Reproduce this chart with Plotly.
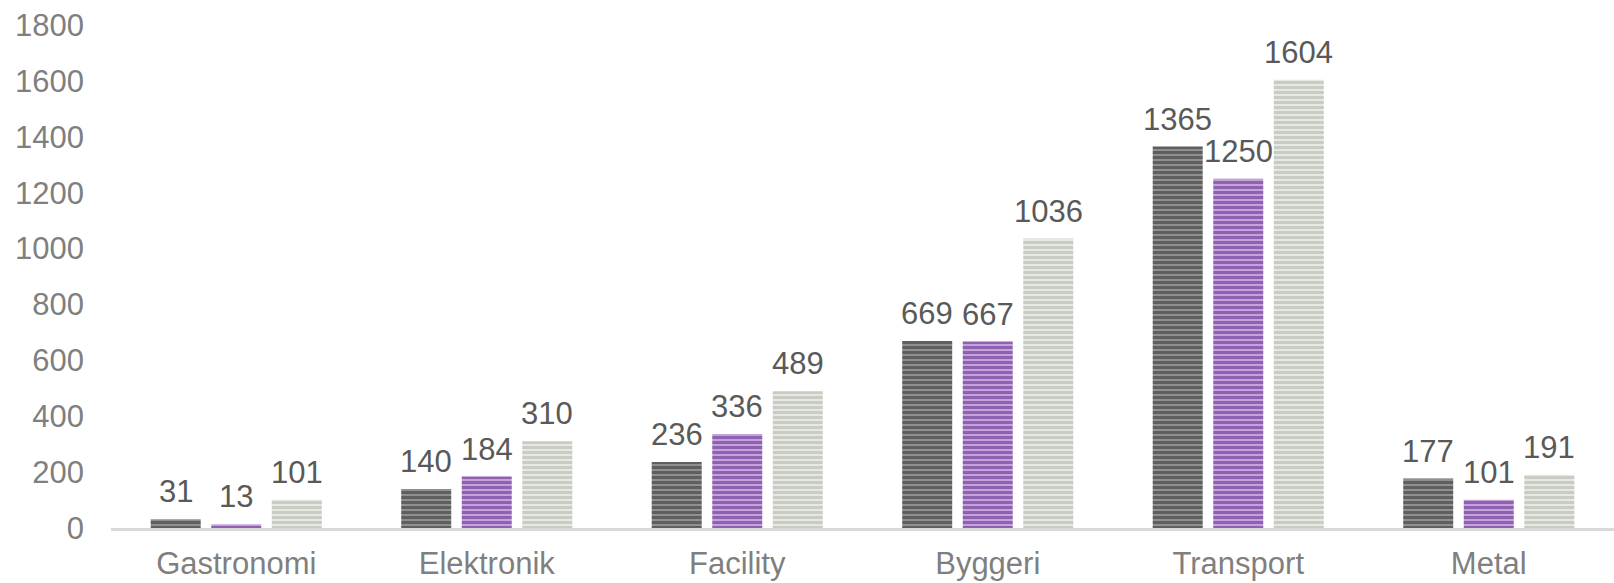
import plotly.graph_objects as go

categories = ["Gastronomi", "Elektronik", "Facility", "Byggeri", "Transport", "Metal"]
series_names = ["Serie 1", "Serie 2", "Serie 3"]
series1 = [31, 140, 236, 669, 1365, 177]
series2 = [13, 184, 336, 667, 1250, 101]
series3 = [101, 310, 489, 1036, 1604, 191]

styles = [
    dict(fg="#2e2e2e", bg="#909090"),
    dict(fg="#5a2187", bg="#c3a3da"),
    dict(fg="#a9afa3", bg="#e6e8e3"),
]

FONT = "Liberation Sans, Arial"
BARGAP = 0.275
GROUPGAP = 0.174

all_series = [series1, series2, series3]
fig = go.Figure()
for name, vals, st in zip(series_names, all_series, styles):
    fig.add_trace(go.Bar(
        x=categories, y=vals, name=name,
        marker=dict(
            color=st["bg"],
            line=dict(width=0),
            pattern=dict(shape="-", fgcolor=st["fg"], bgcolor=st["bg"],
                         size=5, solidity=0.6, fillmode="overlay"),
        ),
        cliponaxis=False,
    ))

# data labels as annotations placed at each bar's slot centre
nser = len(all_series)
slot = (1 - BARGAP) / nser
for j, vals in enumerate(all_series):
    for i, v in enumerate(vals):
        fig.add_annotation(
            x=i + (j - (nser - 1) / 2) * slot, y=v, xref="x", yref="y",
            text=str(v), showarrow=False, yanchor="bottom", yshift=8,
            font=dict(family=FONT, size=31, color="#595959"),
        )

fig.update_layout(
    width=1614, height=583,
    margin=dict(l=111, r=0, t=25, b=55),
    paper_bgcolor="white", plot_bgcolor="white",
    barmode="group", bargap=BARGAP, bargroupgap=GROUPGAP,
    showlegend=False,
    font=dict(family=FONT, size=31, color="#7f7f7f"),
)
fig.update_xaxes(showline=True, linecolor="#d9d9d9", linewidth=3, showgrid=False,
                 ticks="", tickfont=dict(family=FONT, size=31, color="#7f7f7f"),
                 ticklabelstandoff=6, automargin=False)
fig.update_yaxes(range=[0, 1800], dtick=200, showgrid=False, zeroline=False,
                 showline=False, ticks="", tickfont=dict(family=FONT, size=31, color="#7f7f7f"),
                 ticklabelstandoff=26, automargin=False)

fig.write_html("out.html", config={"displayModeBar": False},
               post_script="document.body.style.margin='0';document.body.style.overflow='hidden';")
